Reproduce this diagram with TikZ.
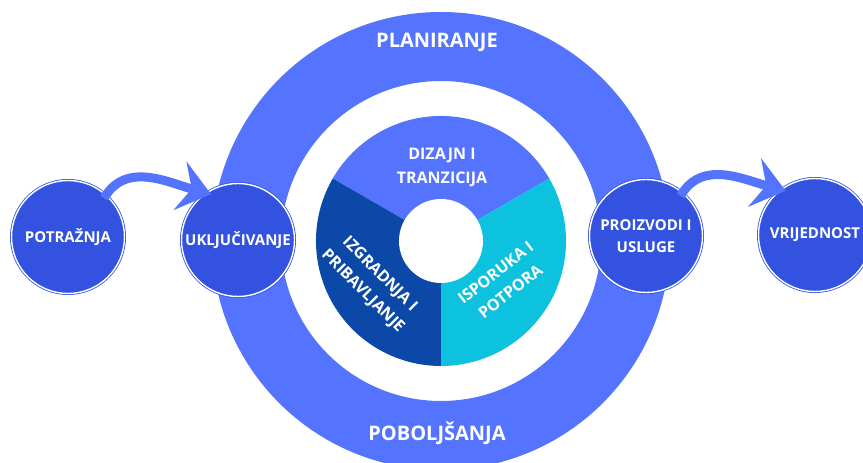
\documentclass[tikz,border=0pt]{standalone}
\usepackage{fontspec}
\setmainfont{Open Sans}[BoldFont={Open Sans Bold}]
\usetikzlibrary{arrows.meta}

\definecolor{ringblue}{HTML}{5474FF}
\definecolor{circblue}{HTML}{3352E0}
\definecolor{darkblue}{HTML}{0B48A8}
\definecolor{cyanblue}{HTML}{0CC2DF}

\begin{document}
\begin{tikzpicture}[x=1pt,y=1pt,
    bubble/.style={circle, fill=circblue, draw=circblue, double=white,
      double distance=1.4pt, line width=0.8pt, minimum size=113pt,
      inner sep=0pt, text=white, align=center,
      font=\bfseries\fontsize{15}{22}\selectfont},
    flowarrow/.style={draw=ringblue, line width=9pt,
      -{Stealth[length=32pt,width=50pt,inset=12pt]}, shorten >=-5pt, shorten <=-4pt},
    segtext/.style={text=white, align=center,
      font=\bfseries\fontsize{16}{24}\selectfont},
    ringtext/.style={text=white, font=\bfseries\fontsize{20}{24}\selectfont}]
  \useasboundingbox (0,0) rectangle (863,463);
  \coordinate (O) at (441,222);
  % outer ring
  \fill[ringblue, even odd rule] (O) circle (229) (O) circle (160);
  \node[ringtext] (plan) at (437,421) {PLANIRANJE};
  \node[ringtext] (pob) at (437,30) {POBOLJŠANJA};
  % pie
  \fill[ringblue] (O) -- ++(30:125) arc (30:150:125) -- cycle;
  \fill[darkblue] (O) -- ++(150:125) arc (150:270:125) -- cycle;
  \fill[cyanblue] (O) -- ++(270:125) arc (270:390:125) -- cycle;
  \fill[white] (O) circle (42);
  \node[segtext] (dizajn) at (442,296) {DIZAJN I\\TRANZICIJA};
  \node[segtext, rotate=-45] (izgradnja) at (371,180) {IZGRADNJA I\\PRIBAVLJANJE};
  \node[segtext, rotate=38] (isporuka) at (503,181) {ISPORUKA I\\POTPORA};
  % circles
  \node[bubble] (potraznja) at (68,226) {POTRAŽNJA};
  \node[bubble] (ukljucivanje) at (238,223) {UKLJUČIVANJE};
  \node[bubble] (proizvodi) at (646,227) {PROIZVODI I\\USLUGE};
  \node[bubble] (vrijednost) at (815,228) {VRIJEDNOST};
  % arrows
  \draw[flowarrow] (potraznja.48) to[out=60,in=165] (ukljucivanje.124);
  \draw[flowarrow] (proizvodi.50) to[out=60,in=165] (vrijednost.127);
\end{tikzpicture}
\end{document}
